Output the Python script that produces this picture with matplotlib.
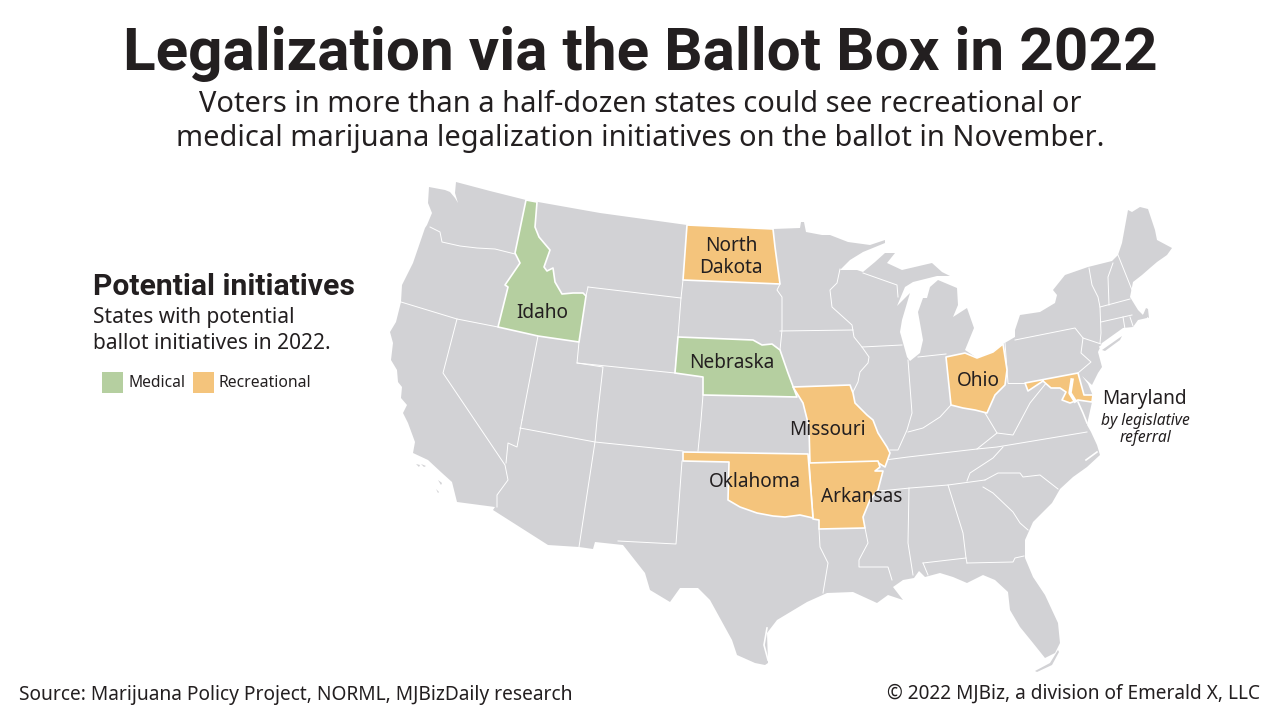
import matplotlib
matplotlib.use("Agg")
import matplotlib.pyplot as plt
from matplotlib.patches import Polygon, Rectangle

# map shapes, x/y in the map's own 1280x720 space
land = [(429,187),(445,190),(450,192),(455,198),(458,203),(455,193),(456,182),(490,191),(526,200),(538,202),(600,213),(687,225),
        (773,229),(800,228),(801,222),(804,222),(806,232),(822,235),(830,235),(848,242),(870,245),(885,240),(885,243),
        (863,252),(850,260),(840,270),(857,270),(863,272),(875,262),(885,253),(895,253),(887,263),(902,270),(932,263),
        (942,272),(950,276),(937,276),(913,282),(905,287),(897,306),(910,293),(902,320),(900,332),(907,357),(910,361),
        (920,353),(923,340),(918,312),(923,298),(927,298),(930,287),(938,280),(957,288),(958,305),(953,317),(967,308),
        (974,328),(965,350),(977,358),(993,352),(1003,344),(1015,337),(1015,330),(1020,315),(1040,312),(1055,303),
        (1057,295),(1053,290),(1065,275),(1088,267),(1112,261),(1118,255),(1122,243),(1128,210),(1132,212),(1140,207),
        (1148,209),(1155,230),(1157,240),(1172,248),(1167,255),(1157,262),(1150,268),(1142,275),(1133,282),(1130,297),
        (1138,310),(1143,315),(1148,310),(1147,318),(1138,320),(1133,327),(1123,328),(1102,343),(1098,352),(1102,367),
        (1098,373),(1092,385),(1082,376),(1088,384),(1093,396),(1092,402),(1088,420),(1087,425),(1091,432),(1097,445),
        (1100,455),(1087,467),(1073,477),(1060,489),(1052,503),(1033,522),(1025,540),(1025,558),(1033,577),(1045,595),
        (1058,623),(1060,643),(1055,653),(1045,658),(1033,643),(1020,627),(1010,610),(1008,592),(995,580),(983,575),
        (967,583),(953,577),(940,573),(925,577),(919,571),(914,578),(903,580),(893,587),(903,600),(888,595),(877,603),
        (853,592),(827,593),(807,602),(777,620),(767,633),(768,663),(765,665),(755,663),(737,655),(732,640),(710,600),
        (698,588),(680,588),(670,602),(650,590),(645,573),(623,545),(595,542),(593,549),(579,547),(548,545),(493,510),
        (495,507),(457,502),(452,482),(442,473),(428,460),(413,453),(415,442),(408,423),(403,413),(407,405),(401,398),
        (402,387),(398,382),(397,370),(391,360),(393,343),(390,332),(396,322),(401,302),(402,285),(413,263),(425,228),
        (427,225),(432,213),(428,203)]
long_island = [(1102,350),(1122,336),(1120,340),(1105,351)]
florida_keys = [(1035,671),(1050,663),(1058,650),(1059,652),(1052,665),(1037,672)]
channel_islands = [[(416,464),(420,465),(419,467)], [(421,464),(426,466),(424,467)],
                   [(438,480),(442,483),(441,485)], [(436,489),(439,492),(438,493)]]
cape_cod = [(1143,315),(1146,308),(1148,309),(1149,318)]

idaho = [(526,200),(537,202),(535,227),(539,237),(550,250),(544,267),(547,271),(553,268),(555,282),(562,294),
         (573,293),(583,293),(586,296),(579,342),(538,336),(498,327),(508,287),(505,285),(520,263),(515,253)]
north_dakota = [(687,225),(773,229),(775,247),(780,284),(683,280)]
nebraska = [(678,337),(753,340),(762,345),(772,344),(780,350),(788,373),(797,397),(703,395),(703,377),(675,373)]
missouri = [(793,387),(850,385),(853,393),(855,403),(867,415),(873,420),(878,433),(887,447),(890,453),(885,467),
            (877,462),(810,464),(809,427),(803,403)]
arkansas = [(809,463),(878,461),(880,467),(875,471),(883,471),(878,490),(870,500),(863,517),(865,528),(819,529),
            (819,520),(813,519)]
oklahoma = [(683,452),(808,454),(813,518),(800,515),(785,517),(773,516),(757,513),(740,507),(728,500),(729,462),
            (683,461)]
ohio = [(946,357),(965,353),(977,358),(993,352),(1003,344),(1007,370),(1005,385),(995,395),(987,413),(975,410),
        (963,408),(951,405)]
maryland = [(1025,383),(1078,373),(1084,395),(1093,395),(1092,402),(1078,400),(1070,403),(1062,400),(1066,392),
            (1060,388),(1051,388),(1043,381),(1028,391)]
chesapeake = [(1072,380),(1070,393),(1075,401)]

medical_states = [idaho, nebraska]
recreational_states = [north_dakota, missouri, arkansas, oklahoma, ohio, maryland]

borders = [
    [(430,227),(440,232),(442,242),(460,246),(477,248),(495,249),(515,254)],
    [(401,302),(457,319),(498,327)],
    [(457,319),(443,373),(505,465),(508,480),(497,495),(497,507)],
    [(522,420),(517,447),(508,443),(506,463)],
    [(538,336),(522,420)],
    [(579,342),(577,363),(603,367),(597,420),(595,442),(579,547)],
    [(520,428),(595,442),(683,451)],
    [(703,395),(701,420),(698,451)],
    [(577,363),(675,373)],
    [(678,337),(675,373)],
    [(588,287),(681,298)],
    [(586,296),(588,287)],
    [(683,280),(681,298),(678,337)],
    [(780,284),(777,290),(782,297),(782,330),(780,350)],
    [(780,331),(853,330)],
    [(840,269),(837,283),(830,290),(832,307),(852,325),(854,337),(862,347),(869,357),(868,363),(860,372),(858,382),(853,392)],
    [(862,347),(902,345)],
    [(863,273),(897,285),(898,297)],
    [(908,360),(912,413),(907,430),(898,450),(890,450)],
    [(918,357),(946,354)],
    [(951,405),(940,417),(923,428),(908,432)],
    [(885,460),(908,457),(977,449),(997,447),(1087,432)],
    [(985,413),(997,433),(977,449)],
    [(997,433),(1013,435),(1030,403),(1047,382)],
    [(1008,383),(1026,383)],
    [(1005,343),(1008,383)],
    [(1015,340),(1075,328),(1083,338),(1101,344)],
    [(1083,338),(1081,353),(1091,362),(1078,373)],
    [(1089,268),(1092,285),(1098,297),(1100,307),(1101,333),(1100,343)],
    [(1113,263),(1108,277),(1109,305)],
    [(1118,255),(1132,290)],
    [(1100,307),(1130,299)],
    [(1101,322),(1132,315)],
    [(1123,317),(1125,329)],
    [(1130,317),(1133,326)],
    [(1003,447),(993,458),(970,473),(967,481)],
    [(880,491),(910,488),(948,485),(985,480)],
    [(909,488),(908,543),(913,575)],
    [(948,485),(963,533),(966,558),(967,563)],
    [(923,563),(966,558)],
    [(923,563),(928,575)],
    [(967,563),(1013,562),(1015,558),(1024,556)],
    [(983,487),(993,493),(1013,512),(1020,523),(1028,530)],
    [(985,480),(998,473),(1020,473),(1023,477),(1040,475),(1058,489)],
    [(865,528),(868,543),(859,560),(859,567),(888,567),(892,580)],
    [(819,529),(820,547),(828,563),(823,593)],
    [(682,461),(676,544),(618,541)],
]
coast_cuts = [
    [(1100,347),(1122,333)],
    [(767,628),(764,645),(768,660)],
    [(1078,402),(1083,413),(1087,423)],
    [(1086,460),(1097,452)],
]

legend_labels = ["Medical", "Recreational"]
land_color = "#d2d2d5"
medical_color = "#b5cfa0"
recreational_color = "#f4c47c"
ink = "#231f20"

plt.rcParams["font.family"] = ["Noto Sans", "DejaVu Sans"]

fig = plt.figure(figsize=(12.8, 7.2), dpi=100)
ax = fig.add_axes([0, 0, 1, 1])
ax.set_xlim(0, 1280)
ax.set_ylim(720, 0)
ax.axis("off")

for shape in [land, long_island, florida_keys, cape_cod] + channel_islands:
    ax.add_patch(Polygon(shape, closed=True, fc=land_color, ec="none", zorder=1))
for line in borders:
    xs, ys = zip(*line)
    ax.plot(xs, ys, color="white", lw=0.7, solid_joinstyle="round", zorder=2)
for line in coast_cuts:
    xs, ys = zip(*line)
    ax.plot(xs, ys, color="white", lw=1.2, zorder=2)

for shape in medical_states:
    ax.add_patch(Polygon(shape, closed=True, fc=medical_color, ec="white", lw=1.2, joinstyle="round", zorder=3))
for shape in recreational_states:
    ax.add_patch(Polygon(shape, closed=True, fc=recreational_color, ec="white", lw=1.2, joinstyle="round", zorder=3))
xs, ys = zip(*chesapeake)
ax.plot(xs, ys, color="white", lw=2.5, zorder=4)

# headers
ax.text(640, 70, "Legalization via the Ballot Box in 2022", ha="center", va="baseline",
        fontsize=43.4, fontweight="bold", family="Roboto", color=ink)
ax.text(640, 112, "Voters in more than a half-dozen states could see recreational or", ha="center",
        va="baseline", fontsize=20.9, color=ink)
ax.text(640, 146, "medical marijuana legalization initiatives on the ballot in November.", ha="center",
        va="baseline", fontsize=20.9, color=ink)

# legend block
ax.text(93, 295, "Potential initiatives", va="baseline", fontsize=21.7, fontweight="bold", family="Roboto", color=ink)
ax.text(93, 323, "States with potential", va="baseline", fontsize=15, color=ink)
ax.text(93, 349, "ballot initiatives in 2022.", va="baseline", fontsize=15, color=ink)
ax.add_patch(Rectangle((102, 372), 21, 21, fc=medical_color, ec="none"))
ax.text(128, 387, legend_labels[0], va="baseline", fontsize=11.2, color=ink)
ax.add_patch(Rectangle((193, 372), 21, 21, fc=recreational_color, ec="none"))
ax.text(219, 387, legend_labels[1], va="baseline", fontsize=11.3, color=ink)

# state names
state_labels = [("North", 731, 251), ("Dakota", 731, 273), ("Idaho", 542, 318), ("Nebraska", 732, 368),
                ("Ohio", 978, 386), ("Missouri", 827, 435), ("Oklahoma", 755, 487), ("Arkansas", 862, 502),
                ("Maryland", 1144, 404)]
for name, x, y in state_labels:
    ax.text(x, y, name, ha="center", va="baseline", fontsize=13.7, color=ink, zorder=5)
ax.text(1145, 425, "by legislative", ha="center", va="baseline", fontsize=11.2, style="italic", color=ink)
ax.text(1145, 442, "referral", ha="center", va="baseline", fontsize=11.2, style="italic", color=ink)

# footer
ax.text(19, 700, "Source: Marijuana Policy Project, NORML, MJBizDaily research", va="baseline",
        fontsize=13.8, color=ink)
ax.text(1260, 699, "© 2022 MJBiz, a division of Emerald X, LLC", ha="right", va="baseline",
        fontsize=13.7, color=ink)

fig.savefig("out.png", dpi=100)
